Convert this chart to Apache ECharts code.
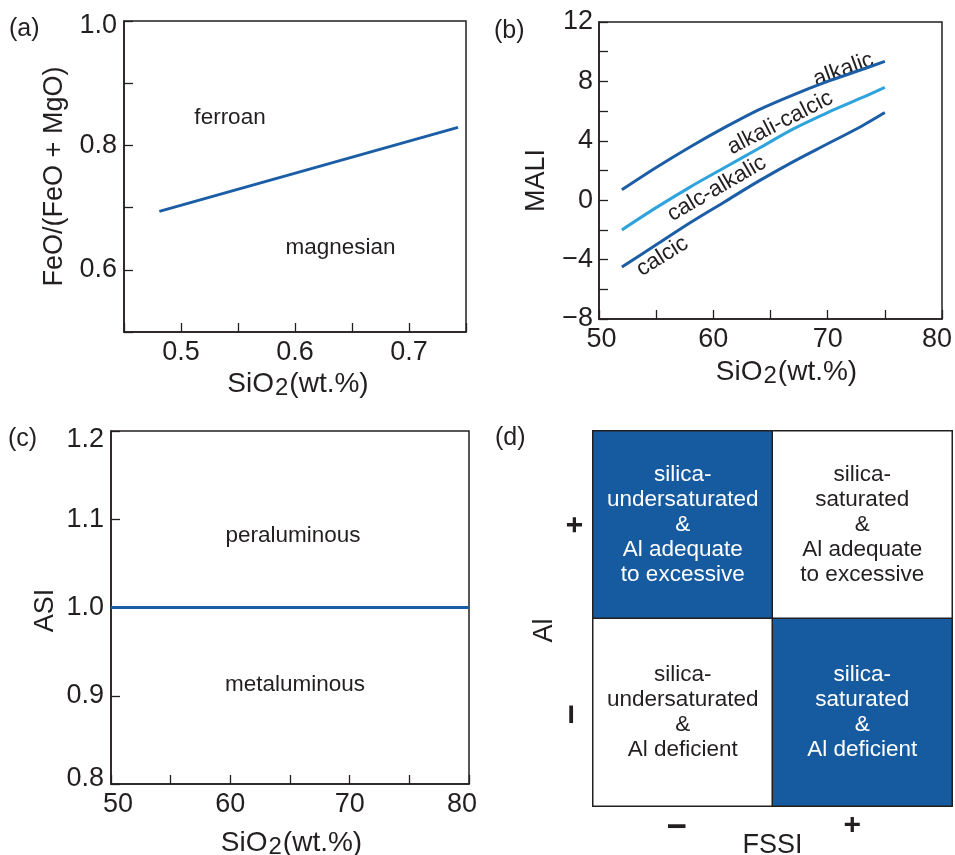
<!DOCTYPE html>
<html><head><meta charset="utf-8">
<script src="https://cdn.jsdelivr.net/npm/echarts@6/dist/echarts.min.js"></script>
<style>html,body{margin:0;padding:0;background:#fff}#c{width:955px;height:855px}</style>
</head><body><div id="c"></div>
<script>
// ---------- Panel (a) ----------
const feBoundary = [[0.481, 0.694], [0.743, 0.829]];
const aXTickLabels = [0.5, 0.6, 0.7];
const aYTickLabels = [0.6, 0.8, 1.0];
const aRegions = [['ferroan', 0.543, 0.845], ['magnesian', 0.640, 0.635]];
// ---------- Panel (b) ----------
const maliSiO2 = [52, 55, 58, 61, 64, 67, 70, 73, 75];
const alkalicBoundary = [0.7, 2.2, 3.6, 4.9, 6.1, 7.1, 8.0, 8.8, 9.35];
const alkaliCalcicBoundary = [-2.0, -0.5, 0.9, 2.2, 3.5, 4.8, 5.9, 6.9, 7.6];
const calcAlkalicBoundary = [-4.5, -3.0, -1.5, -0.1, 1.3, 2.6, 3.8, 5.0, 5.9];
const bXTickLabels = [50, 60, 70, 80];
const bYTickLabels = [-8, -4, 0, 4, 8, 12];
const bRegions = [['alkalic', 71.38, 8.79], ['alkali-calcic', 65.84, 5.21], ['calc-alkalic', 60.30, 0.78], ['calcic', 55.54, -3.78]];
// ---------- Panel (c) ----------
const asiBoundary = [[50, 1.0], [80, 1.0]];
const cXTickLabels = [50, 60, 70, 80];
const cYTickLabels = [0.8, 0.9, 1.0, 1.1, 1.2];
const cRegions = [['peraluminous', 65.25, 1.081], ['metaluminous', 65.42, 0.912]];
// ---------- Panel (d) ----------
const fssiCategories = ['−', '+'];
const alCategories = ['−', '+'];
const quadrantText = [
  [0, 1, 'silica-\nundersaturated\n&\nAl adequate\nto excessive'],
  [1, 1, 'silica-\nsaturated\n&\nAl adequate\nto excessive'],
  [0, 0, 'silica-\nundersaturated\n&\nAl deficient'],
  [1, 0, 'silica-\nsaturated\n&\nAl deficient']
];

const FONT = "'Liberation Sans', Arial, Helvetica, sans-serif";
const INK = '#231f20';
const DARK = '#1b5ea6';
const LIGHT = '#2ea3dc';
const FILL = '#165a9f';

function has(list, v, digits) {
  const f = Math.pow(10, digits);
  return list.some(x => Math.round(x * f) === Math.round(v * f));
}
function fmtNum(v, digits) {
  const s = Math.abs(v).toFixed(digits);
  return v < -1e-9 ? '−' + s : s;
}
const sio2Name = '{a|SiO}{s|2}{a|(wt.%)}';
const sio2Rich = {
  a: { fontSize: 28, fontFamily: FONT, color: INK },
  s: { fontSize: 24, fontFamily: FONT, color: INK, padding: [8, 1, 0, 1] }
};
const tickFont = { fontSize: 27, fontFamily: FONT, color: INK };
const edgeRich = {
  dn5: Object.assign({ padding: [10, 0, 0, 0] }, tickFont),
  dn9: Object.assign({ padding: [18, 0, 0, 0] }, tickFont),
  up5: Object.assign({ padding: [0, 0, 10, 0] }, tickFont),
  r3: Object.assign({ padding: [0, 0, 0, 5] }, tickFont),
  r7: Object.assign({ padding: [0, 0, 0, 14] }, tickFont),
  l5: Object.assign({ padding: [0, 10, 0, 0] }, tickFont),
  l7: Object.assign({ padding: [0, 14, 0, 0] }, tickFont)
};

function valueAxis(o) {
  return Object.assign({
    type: 'value',
    axisLine: { show: true, onZero: false, lineStyle: { color: INK, width: 1.5 } },
    axisTick: { show: true, inside: true, length: 9, lineStyle: { color: INK, width: 1.3 } },
    splitLine: { show: false },
    nameLocation: 'middle',
    nameMoveOverlap: false,
    nameTextStyle: { fontSize: 27, fontFamily: FONT, color: INK }
  }, o);
}

const labelStyle = { fontSize: 22.5, fontFamily: FONT, color: INK };

function regionSeries(xi, yi, regions, rotations) {
  return {
    type: 'scatter', xAxisIndex: xi, yAxisIndex: yi, symbolSize: 0, silent: true,
    itemStyle: { opacity: 1 },
    data: regions.map((r, i) => ({
      name: r[0], value: [r[1], r[2]],
      label: rotations ? { rotate: rotations[i] } : {}
    })),
    label: Object.assign({ show: true, position: 'inside', formatter: p => p.name, textBorderWidth: 0, opacity: 1 }, labelStyle),
    emphasis: { disabled: true }
  };
}

const option = {
  animation: false,
  backgroundColor: '#fff',
  title: [
    { text: '(a)', left: 9, top: 17 },
    { text: '(b)', left: 494, top: 19 },
    { text: '(c)', left: 8, top: 427 },
    { text: '(d)', left: 495, top: 426 }
  ].map(t => Object.assign(t, { padding: 0, textStyle: { fontSize: 25, fontWeight: 'normal', fontFamily: FONT, color: INK } })),
  grid: [
    { left: 124, top: 21, width: 342, height: 311 },
    { left: 599, top: 22, width: 343, height: 297 },
    { left: 111, top: 431, width: 358, height: 353 },
    { left: 593, top: 431, width: 359, height: 375 }
  ].map(g => Object.assign(g, { show: true, borderColor: INK, borderWidth: 1.5, containLabel: false, outerBoundsMode: 'none' })),
  xAxis: [
    valueAxis({
      gridIndex: 0, min: 0.45, max: 0.75, interval: 0.05,
      name: sio2Name, nameGap: 36,
      nameTextStyle: { fontSize: 28, fontFamily: FONT, color: INK, rich: sio2Rich, padding: [0, 0, 0, 6] },
      axisLabel: Object.assign({ margin: 7, formatter: v => has(aXTickLabels, v, 2) ? v.toFixed(1) : '' }, tickFont)
    }),
    valueAxis({
      gridIndex: 1, min: 50, max: 80, interval: 5,
      name: sio2Name, nameGap: 37,
      nameTextStyle: { fontSize: 28, fontFamily: FONT, color: INK, rich: sio2Rich, padding: [0, 0, 0, 32] },
      axisLabel: Object.assign({ margin: 7, rich: edgeRich,
        formatter: v => {
          if (!has(bXTickLabels, v, 0)) return '';
          if (v === 50) return '{r3|50}';
          if (v === 80) return '{l5|80}';
          return String(v);
        } }, tickFont)
    }),
    valueAxis({
      gridIndex: 2, min: 50, max: 80, interval: 5,
      name: sio2Name, nameGap: 43,
      nameTextStyle: { fontSize: 28, fontFamily: FONT, color: INK, rich: sio2Rich, padding: [0, 0, 0, 3] },
      axisLabel: Object.assign({ margin: 7, rich: edgeRich,
        formatter: v => {
          if (!has(cXTickLabels, v, 0)) return '';
          if (v === 50) return '{r7|50}';
          if (v === 80) return '{l7|80}';
          return String(v);
        } }, tickFont)
    }),
    {
      type: 'category', gridIndex: 3, data: fssiCategories,
      axisLine: { show: true, lineStyle: { color: INK, width: 1.5 } },
      axisTick: { show: false }, splitLine: { show: false },
      axisLabel: {
        margin: 5,
        formatter: (v, i) => i === 0 ? '{m|' + v + '}' : '{p|' + v + '}',
        rich: {
          m: { fontSize: 35, fontWeight: 'bold', fontFamily: FONT, color: INK, padding: [0, 12, 0, 0] },
          p: { fontSize: 30, fontWeight: 'bold', fontFamily: FONT, color: INK, padding: [0, 20, 0, 0] }
        }
      },
      name: 'FSSI', nameLocation: 'middle', nameGap: 26, nameMoveOverlap: false,
      nameTextStyle: { fontSize: 27, fontFamily: FONT, color: INK }
    }
  ],
  yAxis: [
    valueAxis({
      gridIndex: 0, min: 0.5, max: 1.0, interval: 0.1,
      name: 'FeO/(FeO + MgO)', nameRotate: 90, nameGap: 56,
      axisLabel: Object.assign({ margin: 7, rich: edgeRich,
        formatter: v => !has(aYTickLabels, v, 2) ? '' : (Math.abs(v - 1.0) < 1e-6 ? '{dn5|' + v.toFixed(1) + '}' : v.toFixed(1)) }, tickFont)
    }),
    valueAxis({
      gridIndex: 1, min: -8, max: 12, interval: 2,
      name: 'MALI', nameRotate: 90, nameGap: 49,
      nameTextStyle: { fontSize: 27, fontFamily: FONT, color: INK, padding: [0, 20, 0, 0] },
      axisLabel: Object.assign({ margin: 6, formatter: v => has(bYTickLabels, v, 0) ? fmtNum(v, 0) : '' }, tickFont)
    }),
    valueAxis({
      gridIndex: 2, min: 0.8, max: 1.2, interval: 0.1,
      name: 'ASI', nameRotate: 90, nameGap: 52,
      nameTextStyle: { fontSize: 27, fontFamily: FONT, color: INK, padding: [0, 6, 0, 0] },
      axisLabel: Object.assign({ margin: 7, rich: edgeRich,
        formatter: v => {
          if (!has(cYTickLabels, v, 2)) return '';
          const s = v.toFixed(1);
          if (Math.abs(v - 1.2) < 1e-6) return '{dn9|' + s + '}';
          if (Math.abs(v - 0.8) < 1e-6) return '{up5|' + s + '}';
          return s;
        } }, tickFont)
    }),
    {
      type: 'category', gridIndex: 3, data: alCategories,
      axisLine: { show: true, lineStyle: { color: INK, width: 1.5 } },
      axisTick: { show: false }, splitLine: { show: false },
      axisLabel: {
        margin: 2, rotate: 90,
        formatter: (v, i) => i === 0 ? '{m|' + v + '}' : '{p|' + v + '}',
        rich: {
          m: { fontSize: 35, fontWeight: 'bold', fontFamily: FONT, color: INK, padding: [0, 4, 0, 0] },
          p: { fontSize: 30, fontWeight: 'bold', fontFamily: FONT, color: INK }
        }
      },
      name: 'Al', nameLocation: 'middle', nameRotate: 90, nameGap: 35, nameMoveOverlap: false,
      nameTextStyle: { fontSize: 27, fontFamily: FONT, color: INK, padding: [0, 24, 0, 0] }
    }
  ],
  series: [
    { type: 'line', xAxisIndex: 0, yAxisIndex: 0, data: feBoundary, symbol: 'none', silent: true,
      lineStyle: { color: DARK, width: 3 } },
    regionSeries(0, 0, aRegions),
    { type: 'line', xAxisIndex: 1, yAxisIndex: 1, data: maliSiO2.map((x, i) => [x, alkalicBoundary[i]]),
      symbol: 'none', smooth: 0.3, silent: true, lineStyle: { color: DARK, width: 3 } },
    { type: 'line', xAxisIndex: 1, yAxisIndex: 1, data: maliSiO2.map((x, i) => [x, alkaliCalcicBoundary[i]]),
      symbol: 'none', smooth: 0.3, silent: true, lineStyle: { color: LIGHT, width: 3 } },
    { type: 'line', xAxisIndex: 1, yAxisIndex: 1, data: maliSiO2.map((x, i) => [x, calcAlkalicBoundary[i]]),
      symbol: 'none', smooth: 0.3, silent: true, lineStyle: { color: DARK, width: 3 } },
    regionSeries(1, 1, bRegions, [20, 27, 30, 32]),
    { type: 'line', xAxisIndex: 2, yAxisIndex: 2, data: asiBoundary, symbol: 'none', silent: true,
      lineStyle: { color: DARK, width: 3 } },
    regionSeries(2, 2, cRegions),
    {
      type: 'heatmap', xAxisIndex: 3, yAxisIndex: 3, silent: true,
      data: quadrantText.map(q => {
        const shaded = q[0] !== q[1];
        return {
          name: q[2], value: [q[0], q[1], 0],
          itemStyle: { color: shaded ? FILL : '#ffffff', borderColor: INK, borderWidth: 1.5 },
          label: { color: shaded ? '#ffffff' : INK }
        };
      }),
      label: { show: true, formatter: p => p.name, fontSize: 22.5, lineHeight: 25, fontFamily: FONT, align: 'center' },
      emphasis: { disabled: true }
    }
  ]
};
const chart = echarts.init(document.getElementById('c'), null, { renderer: 'canvas' });
chart.setOption(option);
</script>
</body></html>
